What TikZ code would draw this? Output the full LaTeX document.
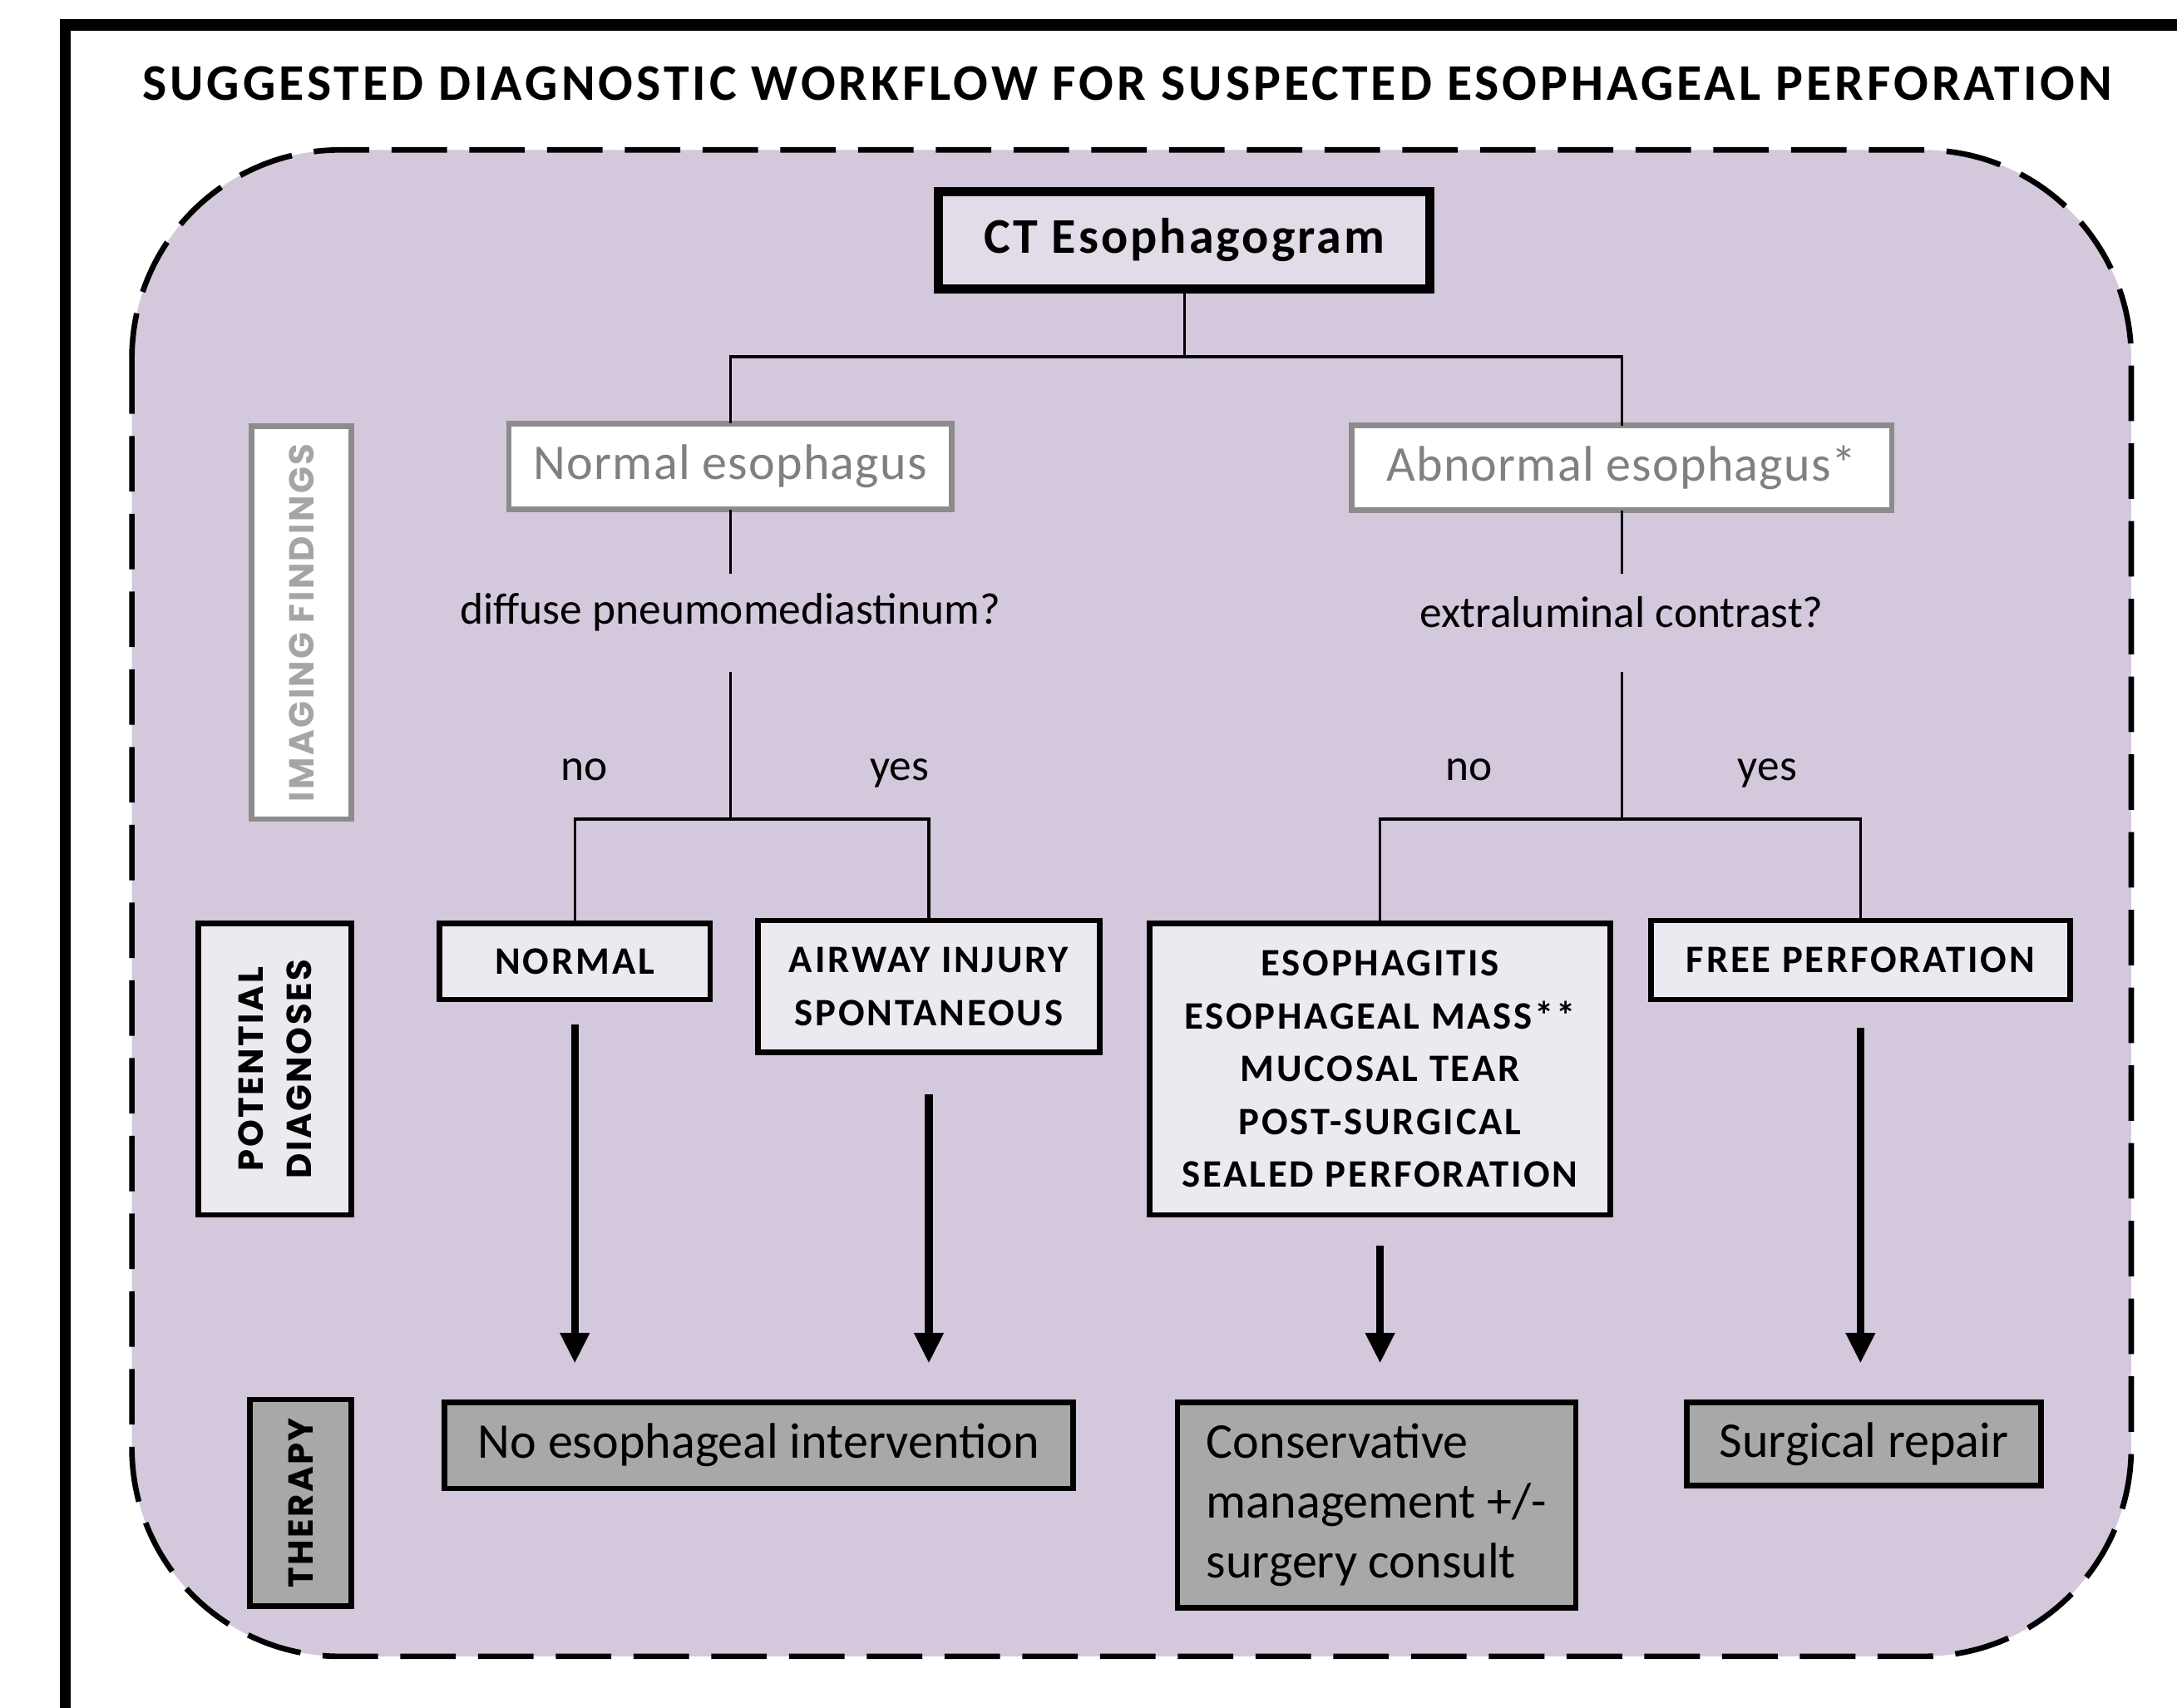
\documentclass[tikz,border=0pt]{standalone}
\usepackage{fontspec}
\setmainfont{Carlito}
\newfontfamily\sidefont{Poppins}
\usetikzlibrary{arrows.meta}
\definecolor{lilac}{RGB}{212,200,221}
\definecolor{paleLilac}{RGB}{237,233,241}
\definecolor{ctFill}{RGB}{226,219,232}
\definecolor{findGray}{RGB}{140,140,140}
\definecolor{findText}{RGB}{128,128,128}
\definecolor{sideText}{RGB}{165,165,165}
\definecolor{therapyGray}{RGB}{168,168,168}

\begin{document}
\begin{tikzpicture}[x=0.5pt,y=-0.5pt,
        every node/.style={inner sep=0pt,outer sep=0pt,align=center},
        ctbox/.style={draw,line width=3.2pt,fill=ctFill,font=\fontsize{18}{22}\selectfont\bfseries\addfontfeature{LetterSpace=5}},
        findbox/.style={draw=findGray,line width=2pt,fill=white,text=findText,font=\fontsize{18}{22}\selectfont\addfontfeature{LetterSpace=2}},
        question/.style={font=\fontsize{16}{19}\selectfont,minimum height=28pt},
        answer/.style={anchor=base,font=\fontsize{16}{19}\selectfont},
        diagbox/.style={draw,line width=2pt,fill=paleLilac,font=\fontsize{14}{19}\selectfont\bfseries\addfontfeature{LetterSpace=6}},
        therapybox/.style={draw,line width=2pt,fill=therapyGray,font=\fontsize{18}{21.5}\selectfont},
        sidelabel/.style={rotate=90,line width=2pt,font=\sidefont\bfseries\fontsize{12.5}{17.5}\selectfont\addfontfeature{LetterSpace=6}},
        conn/.style={line width=1pt},
        bigarrow/.style={line width=2.8pt,-{Triangle[length=11pt,width=10pt]},shorten >=14pt}]

        \useasboundingbox (0,0) rectangle (1568,1230);
        \fill[white] (0,0) rectangle (1568,1230);
        \draw[line width=4pt] (47,1230) -- (47,18) -- (1568,18);

        \node[font=\fontsize{18.5}{22}\selectfont\bfseries\addfontfeature{LetterSpace=6.5}] at (812,60) (title) {SUGGESTED DIAGNOSTIC WORKFLOW FOR SUSPECTED ESOPHAGEAL PERFORATION};

        \draw[line width=2pt,dash pattern=on 20pt off 8pt,rounded corners=75pt,fill=lilac] (95,108) rectangle (1535,1193);

        \node[ctbox,minimum width=177pt,minimum height=35pt] at (853,173) (ct) {CT Esophagogram};
        \node[findbox,minimum width=159.5pt,minimum height=31pt] at (526,336) (normesoph) {Normal esophagus};
        \node[findbox,minimum width=194.5pt,minimum height=30.5pt] at (1168,337) (abnesoph) {Abnormal esophagus*};
        \node[question] at (526,441) (q1) {diffuse pneumomediastinum?};
        \node[question] at (1168,441) (q2) {extraluminal contrast?};
        \node[answer] at (421,562) (noleft) {no};
        \node[answer] at (648,562) (yesleft) {yes};
        \node[answer] at (1058,562) (noright) {no};
        \node[answer] at (1273,562) (yesright) {yes};

        \node[diagbox,minimum width=97.5pt,minimum height=27.5pt] at (414,692.5) (normal) {NORMAL};
        \node[diagbox,minimum width=123pt,minimum height=47.5pt] at (669,710.5) (airway) {AIRWAY INJURY\\SPONTANEOUS};
        \node[diagbox,minimum width=166pt,minimum height=105pt] at (994,770) (esoph) {ESOPHAGITIS\\ESOPHAGEAL MASS**\\MUCOSAL TEAR\\POST-SURGICAL\\SEALED PERFORATION};
        \node[diagbox,minimum width=151pt,minimum height=28.5pt] at (1340,691.5) (freeperf) {FREE PERFORATION};

        \node[therapybox,minimum width=226.5pt,minimum height=31pt] at (546.5,1041) (nointerv) {No esophageal intervention};
        \node[therapybox,align=left,minimum width=143.5pt,minimum height=74pt] at (991.5,1084) (conserv) {Conservative\\management +/-\\surgery consult};
        \node[therapybox,minimum width=127.5pt,minimum height=30pt] at (1342.5,1040) (surgical) {Surgical repair};

        \node[sidelabel,draw=findGray,fill=white,text=sideText,minimum width=141.5pt,minimum height=36pt] at (217,448.5) (imaging) {IMAGING FINDINGS};
        \node[sidelabel,draw,fill=paleLilac,minimum width=105pt,minimum height=55pt] at (198,770) (potential) {POTENTIAL\\DIAGNOSES};
        \node[sidelabel,draw,fill=therapyGray,minimum width=74.5pt,minimum height=36.5pt] at (216.5,1082.5) (therapy) {THERAPY};

        \draw[conn] (ct.south) -- ++(0,49) coordinate (split) -| (normesoph.north);
        \draw[conn] (split) -| (abnesoph.north);
        \draw[conn] (normesoph.south) -- (q1.north);
        \draw[conn] (abnesoph.south) -- (q2.north);
        \draw[conn,shorten <=7.5pt] (q1.south) -- ++(0,121) coordinate (j1);
        \draw[conn] (j1) -| (normal.north);
        \draw[conn] (j1) -| (airway.north);
        \draw[conn,shorten <=7.5pt] (q2.south) -- ++(0,121) coordinate (j2);
        \draw[conn] (j2) -| (esoph.north);
        \draw[conn] (j2) -| (freeperf.north);

        \draw[bigarrow,shorten <=9pt] (normal.south) -- (normal.south |- nointerv.north);
        \draw[bigarrow,shorten <=15pt] (airway.south) -- (airway.south |- nointerv.north);
        \draw[bigarrow,shorten <=11pt] (esoph.south) -- (esoph.south |- conserv.north);
        \draw[bigarrow,shorten <=10pt] (freeperf.south) -- (freeperf.south |- surgical.north);
    \end{tikzpicture}
\end{document}
